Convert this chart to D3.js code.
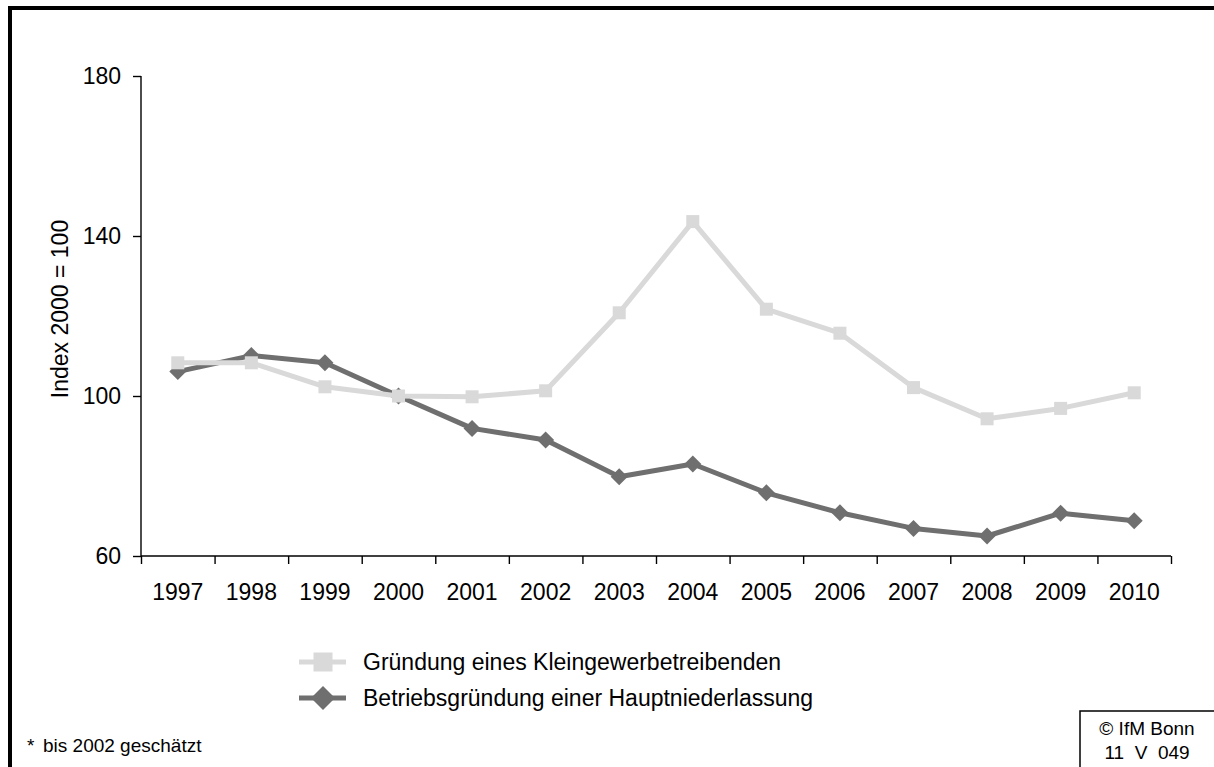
<!DOCTYPE html>
<html>
<head>
<meta charset="utf-8">
<script src="https://cdn.jsdelivr.net/npm/d3@7"></script>
<style>
  html, body { margin: 0; padding: 0; background: #fff; }
  svg { display: block; font-family: "Liberation Sans", Arial, sans-serif; }
</style>
</head>
<body>
<svg id="chart" width="1214" height="767"></svg>
<script>
// ---- data ----
const years = ["1997","1998","1999","2000","2001","2002","2003","2004","2005","2006","2007","2008","2009","2010"];
const kleingewerbe = [108.3, 108.3, 102.3, 100, 99.8, 101.3, 120.8, 143.6, 121.7, 115.7, 102.1, 94.3, 96.9, 100.8];
const hauptniederlassung = [106.1, 110.1, 108.3, 100, 91.9, 89.0, 79.8, 83.0, 75.8, 70.8, 66.9, 65.0, 70.7, 68.8];
const yTicks = [60, 100, 140, 180];
const seriesNames = ["Gründung eines Kleingewerbetreibenden", "Betriebsgründung einer Hauptniederlassung"];
const yTitle = "Index 2000 = 100";
const footnote = ["*", "bis 2002 geschätzt"];
const credit = ["© IfM Bonn", "11  V  049"];

(function () {
// ---- layout ----
const svg = d3.select("#chart");
const pL = 141, pR = 1171, pT = 76, pB = 556;
const lightCol = "#d9d9d9", darkCol = "#6f6f6f";
const fs = 23;

// outer frame
svg.append("rect").attr("x", 10).attr("y", 8).attr("width", 1400).attr("height", 1000)
  .attr("fill", "none").attr("stroke", "#000").attr("stroke-width", 4);

const x = d3.scaleBand().domain(years).range([pL, pR]).padding(0);
const xEdge = d3.scaleLinear().domain([0, years.length]).range([pL, pR]);
const y = d3.scaleLinear().domain([60, 180]).range([pB, pT]);

// y axis
const gy = svg.append("g").attr("transform", `translate(${pL},0)`)
  .call(d3.axisLeft(y).tickValues(yTicks).tickSize(8).tickPadding(12).tickFormat(d3.format("d")));
gy.select(".domain").attr("stroke", "#000").attr("stroke-width", 1.4).attr("d", `M0,${pT}V${pB}`);
gy.selectAll(".tick line").attr("stroke", "#000").attr("stroke-width", 1.4);
gy.selectAll(".tick text").attr("font-size", fs).attr("fill", "#000").attr("font-family", "Liberation Sans, Arial, sans-serif");

// x axis: boundary ticks
const gxe = svg.append("g").attr("transform", `translate(0,${pB})`)
  .call(d3.axisBottom(xEdge).tickValues(d3.range(0, years.length + 1)).tickSize(8).tickFormat(""));
gxe.select(".domain").attr("stroke", "#000").attr("stroke-width", 1.4).attr("d", `M${pL},0H${pR}`);
gxe.selectAll(".tick line").attr("stroke", "#000").attr("stroke-width", 1.4);

// x axis labels
const gx = svg.append("g").attr("transform", `translate(0,${pB})`)
  .call(d3.axisBottom(x).tickSize(0));
gx.select(".domain").remove();
gx.selectAll(".tick text").attr("font-size", fs).attr("fill", "#000")
  .attr("font-family", "Liberation Sans, Arial, sans-serif")
  .attr("dy", null).attr("y", 44);

// y title
svg.append("text").attr("transform", "translate(68,309) rotate(-90)")
  .attr("text-anchor", "middle").attr("font-size", fs).attr("fill", "#000").text(yTitle);

// lines
const xc = d => x(d) + x.bandwidth() / 2;
const line = d3.line().x(d => xc(d[0])).y(d => y(d[1]));
const darkData = years.map((yr, i) => [yr, hauptniederlassung[i]]);
const lightData = years.map((yr, i) => [yr, kleingewerbe[i]]);

svg.append("path").datum(darkData).attr("d", line).attr("fill", "none")
  .attr("stroke", darkCol).attr("stroke-width", 5).attr("stroke-linejoin", "round");
svg.append("g").selectAll("path").data(darkData).join("path")
  .attr("d", "M0,-8.5L8.5,0L0,8.5L-8.5,0Z")
  .attr("transform", d => `translate(${xc(d[0])},${y(d[1])})`)
  .attr("fill", darkCol);

svg.append("path").datum(lightData).attr("d", line).attr("fill", "none")
  .attr("stroke", lightCol).attr("stroke-width", 5).attr("stroke-linejoin", "round");
svg.append("g").selectAll("rect").data(lightData).join("rect")
  .attr("x", d => xc(d[0]) - 6.5).attr("y", d => y(d[1]) - 6.5)
  .attr("width", 13).attr("height", 13).attr("fill", lightCol);

// legend
const leg = svg.append("g");
const rows = [{ y: 662, col: lightCol, type: "square", name: seriesNames[0] },
              { y: 698, col: darkCol, type: "diamond", name: seriesNames[1] }];
rows.forEach(r => {
  leg.append("line").attr("x1", 299).attr("x2", 346).attr("y1", r.y).attr("y2", r.y)
    .attr("stroke", r.col).attr("stroke-width", 5);
  if (r.type === "square") {
    leg.append("rect").attr("x", 323 - 9.5).attr("y", r.y - 9.5).attr("width", 19).attr("height", 19).attr("fill", r.col);
  } else {
    leg.append("path").attr("d", "M0,-12L12,0L0,12L-12,0Z").attr("transform", `translate(323,${r.y})`).attr("fill", r.col);
  }
  leg.append("text").attr("x", 363).attr("y", r.y + 8.3).attr("font-size", fs).attr("fill", "#000").text(r.name);
});

// footnote
svg.append("text").attr("x", 27).attr("y", 752).attr("font-size", 19).attr("fill", "#000").text(footnote[0]);
svg.append("text").attr("x", 43).attr("y", 752).attr("font-size", 19).attr("fill", "#000").text(footnote[1]);

// credit box
svg.append("rect").attr("x", 1080).attr("y", 711).attr("width", 200).attr("height", 100)
  .attr("fill", "#fff").attr("stroke", "#000").attr("stroke-width", 1.5);
svg.append("text").attr("x", 1147).attr("y", 735).attr("text-anchor", "middle").attr("font-size", 19)
  .attr("fill", "#000").text(credit[0]);
svg.append("text").attr("x", 1147).attr("y", 759).attr("text-anchor", "middle").attr("font-size", 19)
  .attr("fill", "#000").style("white-space", "pre").text(credit[1]);
})();
</script>
</body>
</html>
